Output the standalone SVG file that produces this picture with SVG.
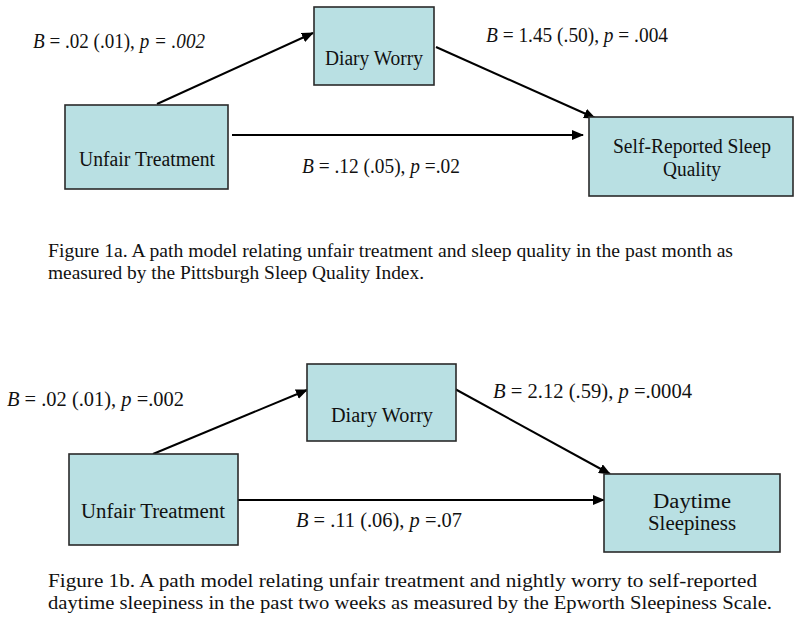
<svg xmlns="http://www.w3.org/2000/svg" width="800" height="624" viewBox="0 0 800 624">
<style>
.box{fill:#b9e0e3;stroke:#2a2a2a;stroke-width:1.6}
.t{font-family:"Liberation Serif","Times New Roman",serif;font-size:20px;fill:#111}
.c{font-family:"Liberation Serif","Times New Roman",serif;font-size:19px;fill:#111}
.m{text-anchor:middle}
.edge{stroke:#000;stroke-width:2;fill:none;marker-end:url(#ah)}
</style>
<defs>
<marker id="ah" viewBox="0 0 12 10" refX="11" refY="5" markerWidth="12" markerHeight="10" markerUnits="userSpaceOnUse" orient="auto">
<path d="M0,0 L12,5 L0,10 z" fill="#000"/>
</marker>
</defs>
<rect width="800" height="624" fill="#fff"/>

<g id="connectors">
<line class="edge" x1="157" y1="104" x2="313" y2="33"/>
<line class="edge" x1="436" y1="47" x2="595" y2="118"/>
<line class="edge" x1="232" y1="135" x2="583" y2="135"/>
<line class="edge" x1="153" y1="454" x2="307" y2="390"/>
<line class="edge" x1="455" y1="389" x2="610" y2="474"/>
<line class="edge" x1="238" y1="500" x2="604" y2="500"/>
</g>

<g id="fig1a-unfair"><rect class="box" x="65" y="105" width="163" height="84"/><text class="t m" x="147" y="166" textLength="136" lengthAdjust="spacingAndGlyphs">Unfair Treatment</text></g>
<g id="fig1a-worry"><rect class="box" x="314" y="7" width="120" height="78"/><text class="t m" x="374" y="65" textLength="98" lengthAdjust="spacingAndGlyphs">Diary Worry</text></g>
<g id="fig1a-sleep"><rect class="box" x="589" y="117" width="204" height="79"/><text class="t m" x="692" y="153" textLength="158" lengthAdjust="spacingAndGlyphs">Self-Reported Sleep</text><text class="t m" x="692" y="176" textLength="58" lengthAdjust="spacingAndGlyphs">Quality</text></g>

<g id="labels-1a">
<text class="t" x="33" y="48" textLength="172" lengthAdjust="spacingAndGlyphs"><tspan font-style="italic">B</tspan> = .02 (.01), <tspan font-style="italic">p = .002</tspan></text>
<text class="t" x="486" y="42" textLength="182" lengthAdjust="spacingAndGlyphs"><tspan font-style="italic">B</tspan> = 1.45 (.50), <tspan font-style="italic">p</tspan> = .004</text>
<text class="t" x="302" y="173" textLength="158" lengthAdjust="spacingAndGlyphs"><tspan font-style="italic">B</tspan> = .12 (.05), <tspan font-style="italic">p</tspan> =.02</text>
</g>

<g id="caption-1a">
<text class="c" x="48" y="257" textLength="685" lengthAdjust="spacingAndGlyphs">Figure 1a. A path model relating unfair treatment and sleep quality in the past month as</text>
<text class="c" x="48" y="279" textLength="376" lengthAdjust="spacingAndGlyphs">measured by the Pittsburgh Sleep Quality Index.</text>
</g>

<g id="fig1b-unfair"><rect class="box" x="69" y="454" width="169" height="91"/><text class="t m" x="153" y="518" textLength="144" lengthAdjust="spacingAndGlyphs">Unfair Treatment</text></g>
<g id="fig1b-worry"><rect class="box" x="307" y="364" width="149" height="77"/><text class="t m" x="382" y="422" textLength="102" lengthAdjust="spacingAndGlyphs">Diary Worry</text></g>
<g id="fig1b-sleepiness"><rect class="box" x="604" y="474" width="176" height="78"/><text class="t m" x="692" y="508" textLength="78" lengthAdjust="spacingAndGlyphs">Daytime</text><text class="t m" x="692" y="530" textLength="88" lengthAdjust="spacingAndGlyphs">Sleepiness</text></g>

<g id="labels-1b">
<text class="t" x="7" y="406" textLength="177" lengthAdjust="spacingAndGlyphs"><tspan font-style="italic">B</tspan> = .02 (.01), <tspan font-style="italic">p</tspan> =.002</text>
<text class="t" x="493" y="398" textLength="199" lengthAdjust="spacingAndGlyphs"><tspan font-style="italic">B</tspan> = 2.12 (.59), <tspan font-style="italic">p</tspan> =.0004</text>
<text class="t" x="296" y="527" textLength="166" lengthAdjust="spacingAndGlyphs"><tspan font-style="italic">B</tspan> = .11 (.06), <tspan font-style="italic">p</tspan> =.07</text>
</g>

<g id="caption-1b">
<text class="c" x="48" y="587" textLength="709" lengthAdjust="spacingAndGlyphs">Figure 1b. A path model relating unfair treatment and nightly worry to self-reported</text>
<text class="c" x="48" y="609" textLength="724" lengthAdjust="spacingAndGlyphs">daytime sleepiness in the past two weeks as measured by the Epworth Sleepiness Scale.</text>
</g>
</svg>
